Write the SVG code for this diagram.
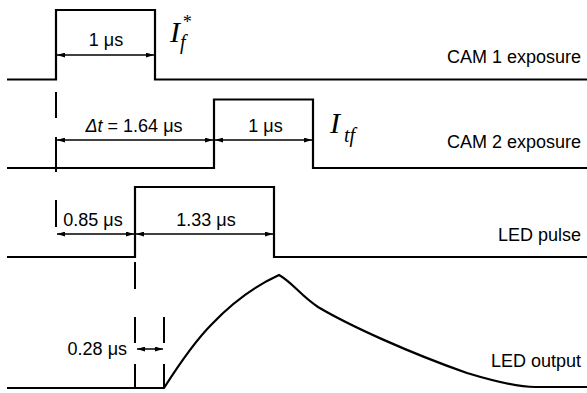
<svg xmlns="http://www.w3.org/2000/svg" width="587" height="393" viewBox="0 0 587 393">
  <style>
    .sig { fill: none; stroke: #000; stroke-width: 2.2; stroke-linejoin: miter; }
    .dash { stroke: #000; stroke-width: 2; }
    .dim { stroke: #000; stroke-width: 1.5; marker-start: url(#ah); marker-end: url(#ah); }
    .lbl { font-family: "Liberation Sans", Arial, sans-serif; font-size: 18px; fill: #000; }
    .sym { font-family: "Liberation Serif", "Times New Roman", serif; font-style: italic; fill: #000; }
  </style>
  <defs>
    <marker id="ah" viewBox="0 0 10 6" refX="10" refY="3" markerWidth="8" markerHeight="5" markerUnits="userSpaceOnUse" orient="auto-start-reverse">
      <path d="M0,0 L10,3 L0,6 Z" fill="#000"/>
    </marker>
  </defs>

  <!-- timing signals -->
  <g id="cam1">
    <polyline class="sig" points="7,79.5 56,79.5 56,10 155,10 155,79.5 587,79.5"/>
    <text class="lbl" x="581" y="63" text-anchor="end">CAM 1 exposure</text>
    <text class="sym" x="170" y="42" font-size="30">I</text>
    <text class="sym" x="180" y="49" font-size="20">f</text>
    <text class="sym" x="182" y="28" font-size="18" font-style="normal">*</text>
  </g>

  <g id="cam2">
    <polyline class="sig" points="7,168 214,168 214,99.5 313,99.5 313,168 587,168"/>
    <text class="lbl" x="581" y="148" text-anchor="end">CAM 2 exposure</text>
    <text class="sym" x="330" y="133" font-size="30">I</text>
    <text class="sym" x="344" y="142" font-size="20">tf</text>
  </g>

  <g id="led-pulse">
    <polyline class="sig" points="7,257 135,257 135,187 274,187 274,257 587,257"/>
    <text class="lbl" x="581" y="241" text-anchor="end">LED pulse</text>
  </g>

  <g id="led-output">
    <path class="sig" d="M7,388 L164,388 C178,366 196,340 212,324 C232,303 255,286 279,275 C292,282 300,295 318,307 C350,326 410,353 467,373 C500,383 520,387 535,387 L587,387"/>
    <text class="lbl" x="581" y="367" text-anchor="end">LED output</text>
  </g>

  <!-- dashed reference lines and dimension arrows -->
  <g id="connectors">
    <line class="dash" x1="56" y1="92" x2="56" y2="118"/>
    <line class="dash" x1="56" y1="137" x2="56" y2="172"/>
    <line class="dash" x1="56" y1="200" x2="56" y2="227"/>
    <line class="dash" x1="135" y1="262" x2="135" y2="289"/>
    <line class="dash" x1="135" y1="317" x2="135" y2="343"/>
    <line class="dash" x1="135" y1="364" x2="135" y2="388"/>
    <line class="dash" x1="164" y1="317" x2="164" y2="343"/>
    <line class="dash" x1="164" y1="364" x2="164" y2="388"/>

    <line class="dim" x1="57" y1="55" x2="154" y2="55"/>
    <line class="dim" x1="57" y1="140" x2="213" y2="140"/>
    <line class="dim" x1="215" y1="140" x2="312" y2="140"/>
    <line class="dim" x1="57" y1="234" x2="134" y2="234"/>
    <line class="dim" x1="136" y1="234" x2="273" y2="234"/>
    <line class="dim" x1="137" y1="349" x2="163" y2="349"/>
  </g>

  <g id="dimension-labels">
    <text class="lbl" x="106" y="46" text-anchor="middle">1 μs</text>
    <text class="lbl" x="134" y="132" text-anchor="middle"><tspan font-style="italic">Δt</tspan> = 1.64 μs</text>
    <text class="lbl" x="265.5" y="132" text-anchor="middle">1 μs</text>
    <text class="lbl" x="93" y="226" text-anchor="middle">0.85 μs</text>
    <text class="lbl" x="206" y="226" text-anchor="middle">1.33 μs</text>
    <text class="lbl" x="127" y="355" text-anchor="end">0.28 μs</text>
  </g>
</svg>
